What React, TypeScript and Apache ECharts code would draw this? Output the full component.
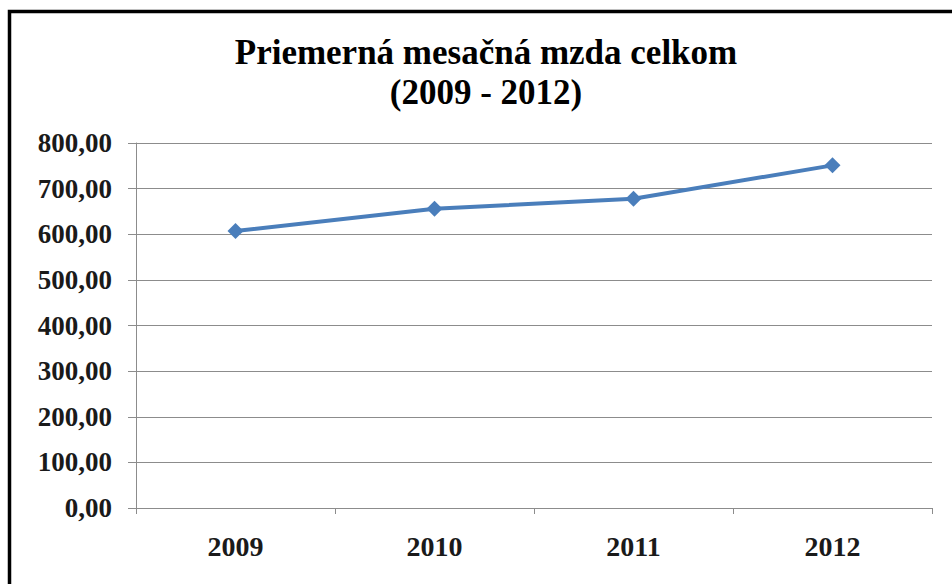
import React, { useEffect, useRef } from "react";
import * as echarts from "echarts";

const categories = ["2009", "2010", "2011", "2012"];
const wages = [607, 656, 678, 751];
const titleLines = ["Priemerná mesačná mzda celkom", "(2009 - 2012)"];
const yMin = 0;
const yMax = 800;
const yStep = 100;

export default function App() {
  const ref = useRef<HTMLDivElement>(null);
  useEffect(() => {
    if (!ref.current) return;
    const chart = echarts.init(ref.current, undefined, { renderer: "svg" });
    const serif = "Liberation Serif";
    chart.setOption({
      animation: false,
      backgroundColor: "#ffffff",
      graphic: [
        {
          type: "rect",
          shape: { x: 9.5, y: 11.5, width: 980, height: 620 },
          style: { fill: "none", stroke: "#000000", lineWidth: 3.5 },
          silent: true,
        },
        {
          type: "text",
          x: 486,
          y: 52,
          silent: true,
          style: {
            text: titleLines[0],
            fontFamily: serif,
            fontWeight: "bold",
            fontSize: 35,
            fill: "#000000",
            align: "center",
            verticalAlign: "middle",
          },
        },
        {
          type: "text",
          x: 486,
          y: 92,
          silent: true,
          style: {
            text: titleLines[1],
            fontFamily: serif,
            fontWeight: "bold",
            fontSize: 35,
            fill: "#000000",
            align: "center",
            verticalAlign: "middle",
          },
        },
      ],
      grid: { left: 136, right: 20, top: 143, bottom: 76 },
      xAxis: {
        type: "category",
        data: categories,
        boundaryGap: true,
        axisLine: { show: true, lineStyle: { color: "#8c8c8c", width: 1 } },
        axisTick: { show: true, length: 6, alignWithLabel: false, lineStyle: { color: "#8c8c8c" } },
        axisLabel: {
          fontFamily: serif,
          fontWeight: "bold",
          fontSize: 28,
          color: "#1a1a1a",
          margin: 24,
        },
        splitLine: { show: false },
      },
      yAxis: {
        type: "value",
        min: yMin,
        max: yMax,
        interval: yStep,
        axisLine: { show: true, lineStyle: { color: "#8c8c8c", width: 1 } },
        axisTick: { show: true, length: 8, lineStyle: { color: "#8c8c8c" } },
        axisLabel: {
          fontFamily: serif,
          fontWeight: "bold",
          fontSize: 27,
          color: "#1a1a1a",
          margin: 24,
          formatter: (v: number) => v.toFixed(2).replace(".", ","),
        },
        splitLine: { show: true, lineStyle: { color: "#8c8c8c", width: 1 } },
      },
      series: [
        {
          type: "line",
          data: wages,
          symbol: "diamond",
          symbolSize: 16,
          lineStyle: { color: "#4a7ebb", width: 4 },
          itemStyle: { color: "#4a7ebb" },
        },
      ],
    });
    return () => chart.dispose();
  }, []);
  return (
    <div
      ref={ref}
      style={{ position: "fixed", left: 0, top: 0, width: 952, height: 584 }}
    />
  );
}
